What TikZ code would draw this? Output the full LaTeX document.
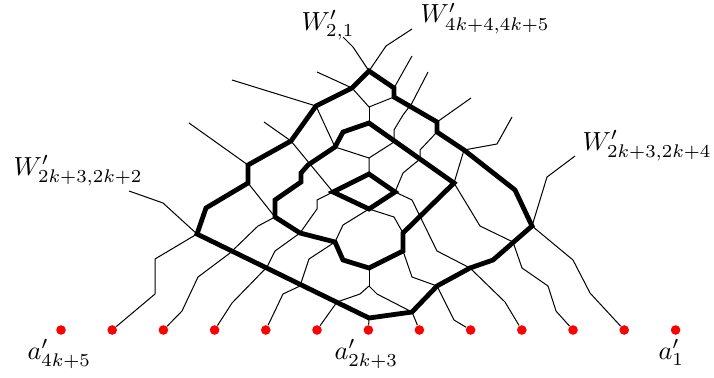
\documentclass[tikz,border=0pt]{standalone}
\usepackage{amsmath}
\begin{document}
\begin{tikzpicture}[
  x=0.4167pt, y=-0.4167pt,
  dot/.style={circle, fill=red, inner sep=0pt, minimum size=4pt},
  lbl/.style={anchor=base west, inner sep=0pt, scale=1.09, transform shape},
  wire/.style={line width=0.42pt},
  ring/.style={line width=2pt},
]
  \useasboundingbox (0,0) rectangle (714,377);

  \node[dot] (a13) at (61,330) {};
  \node[dot] (a12) at (112.2,330) {};
  \node[dot] (a11) at (163.4,330) {};
  \node[dot] (a10) at (214.6,330) {};
  \node[dot] (a9) at (265.8,330) {};
  \node[dot] (a8) at (317,330) {};
  \node[dot] (a7) at (368.4,330) {};
  \node[dot] (a6) at (419.4,330) {};
  \node[dot] (a5) at (470.6,330) {};
  \node[dot] (a4) at (521.8,330) {};
  \node[dot] (a3) at (573,330) {};
  \node[dot] (a2) at (624.2,330) {};
  \node[dot] (a1) at (675.6,330) {};

  \node[lbl] (wtop) at (301,30) {$W'_{2,1}$};
  \node[lbl] (wtopr) at (420,23) {$W'_{4k+4,4k+5}$};
  \node[lbl] (wleft) at (13,175) {$W'_{2k+3,2k+2}$};
  \node[lbl] (wright) at (582,150) {$W'_{2k+3,2k+4}$};
  \node[lbl] (lbla) at (27,359) {$a'_{4k+5}$};
  \node[lbl] (lblb) at (334,359) {$a'_{2k+3}$};
  \node[lbl] (lblc) at (658,359) {$a'_{1}$};

  \coordinate (o1) at (369,71);
  \coordinate (o2) at (394,88);
  \coordinate (o3) at (394,97);
  \coordinate (o4) at (437,122);
  \coordinate (o5) at (437,132);
  \coordinate (o6) at (464,150);
  \coordinate (o7) at (515,190);
  \coordinate (o8) at (532,226);
  \coordinate (o9) at (493,260);
  \coordinate (o10) at (470,268);
  \coordinate (o11) at (437,286);
  \coordinate (o12) at (412,312);
  \coordinate (o13) at (369,318);
  \coordinate (o14) at (197,234);
  \coordinate (o15) at (206,208);
  \coordinate (o16) at (248,183);
  \coordinate (o17) at (248,165);
  \coordinate (o18) at (291,141);
  \coordinate (o19) at (316,106);
  \coordinate (o20) at (352,88);

  \coordinate (m1) at (369,123);
  \coordinate (m2) at (343,132);
  \coordinate (m3) at (335,147);
  \coordinate (m4) at (308,165);
  \coordinate (m5) at (301,173);
  \coordinate (m6) at (301,182);
  \coordinate (m7) at (275,200);
  \coordinate (m8) at (275,217);
  \coordinate (m9) at (300,233);
  \coordinate (m10) at (335,242);
  \coordinate (m11) at (343,260);
  \coordinate (m12) at (369,268);
  \coordinate (m13) at (403,251);
  \coordinate (m14) at (403,233);
  \coordinate (m15) at (454,183);

  \coordinate (d1) at (369,174);
  \coordinate (d2) at (395,192);
  \coordinate (d3) at (369,209);
  \coordinate (d4) at (333,192);

  \coordinate (j1) at (369,107);
  \coordinate (j2) at (369,158);
  \coordinate (j3) at (369,286);

  \coordinate (e1) at (343,37);
  \coordinate (e2) at (412,29);
  \coordinate (e3) at (317,72);
  \coordinate (e4) at (412,56);
  \coordinate (e5) at (428,72);
  \coordinate (e6) at (471,98);
  \coordinate (e7) at (512,117);
  \coordinate (e8) at (232,80);
  \coordinate (e9) at (264,122);
  \coordinate (e10) at (189,123);
  \coordinate (e11) at (129,191);
  \coordinate (e12) at (575,156);

  \draw[wire] (o1) -- (353,47) -- (e1);
  \draw[wire] (o1) -- (386,46) -- (e2);
  \draw[wire] (e3) -- (o20) -- (j1) -- (o3);
  \draw[wire] (j1) -- (m1);
  \draw[wire] (o2) -- (e4);
  \draw[wire] (e5) -- (412,103) -- (403,115) -- (394,130) -- (394,142) -- (j2);
  \draw[wire] (o4) -- (e6);
  \draw[wire] (o5) -- (420,150) -- (420,159) -- (403,173) -- (d2);
  \draw[wire] (o6) -- (497,144) -- (e7);
  \draw[wire] (o6) -- (m15);
  \draw[wire] (m15) -- (480,226) -- (513,242) -- (522,268) -- (548,286) -- (556,311) -- (a3);
  \draw[wire] (e8) -- (o19) -- (m3) -- (j2) -- (d1);
  \draw[wire] (e9) -- (o18) -- (d4);
  \draw[wire] (e10) -- (o17);
  \draw[wire] (o16) -- (m8);
  \draw[wire] (o14) -- (163,203) -- (e11);
  \draw[wire] (o14) -- (155,259) -- (155,294) -- (a12);
  \draw[wire] (a11) -- (182,311) -- (198,277) -- (230,253) -- (258,226) -- (m8);
  \draw[wire] (a10) -- (232,303) -- (267,267) -- (275,251) -- (m9);
  \draw[wire] (a9) -- (283,294) -- (300,286) -- (309,259) -- (m10);
  \draw[wire] (a8) -- (337,302) -- (360,294) -- (j3);
  \draw[wire] (m12) -- (j3);
  \draw[wire] (o13) -- (a7);
  \draw[wire] (j3) -- (377,294) -- (o12);
  \draw[wire] (a6) -- (o12);
  \draw[wire] (a5) -- (454,320) -- (o11);
  \draw[wire] (m13) -- (412,277) -- (o11);
  \draw[wire] (a4) -- (505,302) -- (o10) -- (437,251) -- (412,200) -- (d2);
  \draw[wire] (d3) -- (394,217) -- (m14);
  \draw[wire] (d3) -- (343,225) -- (m10);
  \draw[wire] (d4) -- (317,200) -- (317,209) -- (m9);
  \draw[wire] (o8) -- (547,177) -- (e12);
  \draw[wire] (o8) -- (573,260) -- (590,293) -- (a2);

  \draw[ring] (o1) -- (o2) -- (o3) -- (o4) -- (o5) -- (o6) -- (o7) -- (o8) -- (o9) -- (o10)
    -- (o11) -- (o12) -- (o13) -- (o14) -- (o15) -- (o16) -- (o17) -- (o18) -- (o19) -- (o20) -- cycle;
  \draw[ring] (m1) -- (m2) -- (m3) -- (m4) -- (m5) -- (m6) -- (m7) -- (m8) -- (m9) -- (m10)
    -- (m11) -- (m12) -- (m13) -- (m14) -- (m15) -- cycle;
  \draw[ring] (d1) -- (d2) -- (d3) -- (d4) -- cycle;
\end{tikzpicture}
\end{document}
